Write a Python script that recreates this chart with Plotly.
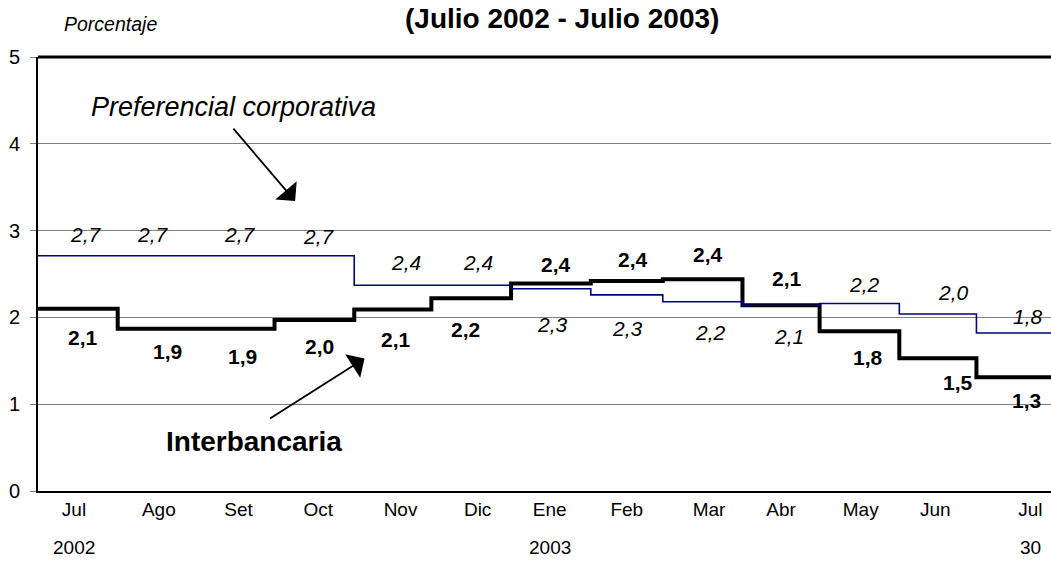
import plotly.graph_objects as go

# ---------------- data ----------------
step_dates = ["2002-07-01", "2002-08-01", "2002-09-01", "2002-10-01", "2002-11-01",
              "2002-12-01", "2003-01-01", "2003-02-01", "2003-03-01", "2003-04-01",
              "2003-05-01", "2003-06-01", "2003-07-01"]
end_date = "2003-07-30"
start_date = "2002-07-01"

months = ["Jul", "Ago", "Set", "Oct", "Nov", "Dic", "Ene", "Feb", "Mar", "Abr", "May", "Jun", "Jul"]
month_tick_dates = ["2002-07-15", "2002-08-17", "2002-09-17", "2002-10-18", "2002-11-19",
                    "2002-12-19", "2003-01-16", "2003-02-15", "2003-03-19", "2003-04-16",
                    "2003-05-17", "2003-06-15", "2003-07-22"]
year_labels = ["2002", "2003", "30"]
year_label_index = [0, 6, 12]

preferencial = [2.71, 2.71, 2.71, 2.71, 2.37, 2.37, 2.33, 2.26, 2.18, 2.14, 2.16, 2.04, 1.82]
interbancaria = [2.10, 1.87, 1.87, 1.97, 2.09, 2.22, 2.39, 2.42, 2.44, 2.14, 1.84, 1.53, 1.31]

y_ticks = [0, 1, 2, 3, 4, 5]

# label offsets (pixels) -- layout tuning only
pref_dx = [12, -6, 1, 1, 5, 0, 3, 1, 1, 8, 4, 18, -2]
pref_dy = [21, 21, 21, 19, 23, 23, -36, -34, -31, -31, 19, 21, 17]
inter_dx = [9, 9, 4, 1, -5, -12, 6, 6, -1, 6, 7, 23, -4]
inter_dy = [-29, -23, -28, -26, -30, -31, 19, 21, 25, 27, -26, -24, -23]

FONT = "Liberation Sans, Arial, sans-serif"
NAVY = "#000080"


def fmt(v):
    return f"{v:.1f}".replace(".", ",")


fig = go.Figure()

fig.add_trace(go.Scatter(
    x=step_dates + [end_date], y=interbancaria + [interbancaria[-1]],
    mode="lines", line=dict(color="black", width=4, shape="hv"),
    name="Interbancaria", showlegend=False, hoverinfo="skip"))

fig.add_trace(go.Scatter(
    x=step_dates + [end_date], y=preferencial + [preferencial[-1]],
    mode="lines", line=dict(color=NAVY, width=1.6, shape="hv"),
    name="Preferencial corporativa", showlegend=False, hoverinfo="skip"))

annotations = []
for i, v in enumerate(preferencial):
    annotations.append(dict(
        x=month_tick_dates[i], y=v, xref="x", yref="y", text="<i>" + fmt(v) + "</i>",
        showarrow=False, xshift=pref_dx[i], yshift=pref_dy[i],
        xanchor="center", yanchor="middle",
        font=dict(family=FONT, size=21, color="black")))
for i, v in enumerate(interbancaria):
    annotations.append(dict(
        x=month_tick_dates[i], y=v, xref="x", yref="y", text="<b>" + fmt(v) + "</b>",
        showarrow=False, xshift=inter_dx[i], yshift=inter_dy[i],
        xanchor="center", yanchor="middle",
        font=dict(family=FONT, size=21, color="black")))

# year row
for lbl, idx in zip(year_labels, year_label_index):
    annotations.append(dict(
        x=month_tick_dates[idx], y=-0.131, xref="x", yref="paper", text=lbl,
        showarrow=False, xanchor="center", yanchor="middle",
        font=dict(family=FONT, size=19, color="black")))

# title, axis title
annotations.append(dict(
    x=0.517, y=1.088, xref="paper", yref="paper",
    text="<b>(Julio 2002 - Julio 2003)</b>", showarrow=False,
    xanchor="center", yanchor="middle",
    font=dict(family=FONT, size=28, color="black")))
annotations.append(dict(
    x=0.072, y=1.076, xref="paper", yref="paper",
    text="<i>Porcentaje</i>", showarrow=False,
    xanchor="center", yanchor="middle",
    font=dict(family=FONT, size=19.5, color="black")))

# series labels with arrows
annotations.append(dict(
    x=0.193, y=0.884, xref="paper", yref="paper",
    text="<i>Preferencial corporativa</i>", showarrow=False,
    xanchor="center", yanchor="middle",
    font=dict(family=FONT, size=27, color="black")))
annotations.append(dict(
    x="2002-10-09", y=3.34, xref="x", yref="y", text="",
    showarrow=True, ax=-63, ay=-74, arrowhead=1, arrowsize=2.6, arrowwidth=1.8,
    arrowcolor="black", standoff=0))
annotations.append(dict(
    x=0.213, y=0.113, xref="paper", yref="paper",
    text="<b>Interbancaria</b>", showarrow=False,
    xanchor="center", yanchor="middle",
    font=dict(family=FONT, size=28, color="black")))
annotations.append(dict(
    x="2002-11-05", y=1.527, xref="x", yref="y", text="",
    showarrow=True, ax=-96, ay=61, arrowhead=1, arrowsize=2.6, arrowwidth=1.8,
    arrowcolor="black", standoff=0))

fig.update_layout(
    width=1051, height=572,
    margin=dict(l=38, r=0, t=57, b=81),
    paper_bgcolor="white", plot_bgcolor="white",
    font=dict(family=FONT, size=19, color="black"),
    annotations=annotations,
    shapes=[dict(type="line", xref="paper", yref="paper", x0=0, x1=1, y0=1, y1=1,
                 line=dict(color="black", width=3), layer="above")],
)

fig.update_xaxes(
    type="date", range=[start_date, end_date],
    tickvals=month_tick_dates, ticktext=months, ticks="",
    showgrid=False, zeroline=False,
    showline=True, linecolor="black", linewidth=2,
    tickfont=dict(family=FONT, size=19, color="black"),
    ticklabelstandoff=0,
)
fig.update_yaxes(
    range=[0, 5], tickvals=y_ticks, ticktext=[str(t) for t in y_ticks],
    ticks="outside", ticklen=6, tickcolor="#808080", tickwidth=1,
    showgrid=True, gridcolor="#808080", gridwidth=1, zeroline=False,
    showline=True, linecolor="black", linewidth=2,
    tickfont=dict(family=FONT, size=20, color="black"),
    ticklabelstandoff=6,
)

fig.write_html(
    "out.html",
    config={"displayModeBar": False, "staticPlot": True},
    post_script="document.body.style.margin='0';document.body.style.overflow='hidden';",
)
